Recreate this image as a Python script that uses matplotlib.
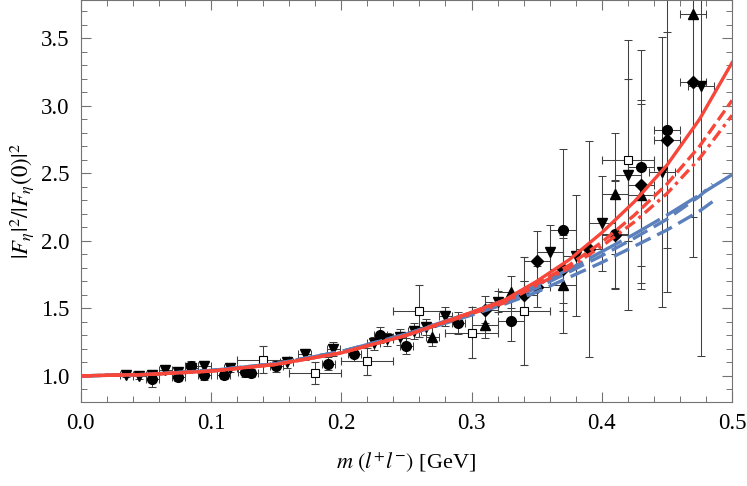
import numpy as np
import matplotlib.pyplot as plt

plt.rcParams['font.family'] = ['Liberation Serif', 'DejaVu Serif']
plt.rcParams['mathtext.fontset'] = 'stix'

# model curves
xc = [0, 0.05, 0.1, 0.15, 0.2, 0.25, 0.3, 0.325, 0.35, 0.375, 0.4, 0.425, 0.45, 0.475, 0.5]
red_solid = [1.0, 1.01, 1.035, 1.085, 1.17, 1.30, 1.47, 1.56, 1.70, 1.86, 2.06, 2.29, 2.56, 2.90, 3.32]
red_dash = [1.0, 1.01, 1.035, 1.085, 1.17, 1.30, 1.47, 1.55, 1.68, 1.82, 1.99, 2.19, 2.42, 2.70, 3.04]
red_dashdot = [1.0, 1.01, 1.035, 1.085, 1.17, 1.30, 1.46, 1.54, 1.67, 1.80, 1.96, 2.14, 2.35, 2.61, 2.93]
blue_top = [1.0, 1.01, 1.04, 1.09, 1.18, 1.31, 1.47, 1.56, 1.67, 1.79, 1.92, 2.05, 2.19, 2.34, 2.49]

xb = [0, 0.05, 0.1, 0.15, 0.2, 0.25, 0.3, 0.325, 0.35, 0.375, 0.4, 0.425, 0.45, 0.475, 0.485]
blue_mid = [1.0, 1.01, 1.04, 1.09, 1.18, 1.31, 1.46, 1.55, 1.65, 1.77, 1.89, 2.02, 2.16, 2.33, 2.42]
blue_low = [1.0, 1.01, 1.04, 1.09, 1.18, 1.30, 1.45, 1.53, 1.62, 1.73, 1.84, 1.96, 2.08, 2.22, 2.29]

# data points
v_x = [0.035, 0.045, 0.055, 0.065, 0.075, 0.085, 0.095, 0.115, 0.158, 0.172, 0.194, 0.225, 0.235,
       0.245, 0.256, 0.265, 0.28, 0.32, 0.34, 0.36, 0.38, 0.40, 0.42, 0.446, 0.476]
v_y = [1.01, 1.0, 1.01, 1.04, 1.03, 1.06, 1.07, 1.06, 1.10, 1.16, 1.20, 1.24, 1.27,
       1.29, 1.33, 1.36, 1.44, 1.55, 1.60, 1.92, 1.89, 2.13, 2.49, 2.51, 3.15]
v_yerr = [0.02, 0.02, 0.02, 0.02, 0.02, 0.03, 0.04, 0.03, 0.04, 0.04, 0.05, 0.05, 0.05,
          0.06, 0.06, 0.06, 0.07, 0.08, 0.10, 0.20, 0.45, 0.35, 1.0, 1.0, 2.0]

o_x = [0.055, 0.075, 0.085, 0.095, 0.11, 0.126, 0.131, 0.15, 0.19, 0.21, 0.23, 0.25, 0.29,
       0.33, 0.37, 0.41, 0.43, 0.45]
o_y = [0.98, 0.995, 1.07, 1.01, 1.01, 1.025, 1.02, 1.07, 1.09, 1.16, 1.30, 1.22, 1.39,
       1.41, 2.08, 2.05, 2.55, 2.82]
o_yerr = [0.06, 0.03, 0.04, 0.04, 0.03, 0.03, 0.03, 0.04, 0.05, 0.05, 0.06, 0.06, 0.08,
          0.15, 0.6, 0.4, 0.86, 1.2]

u_x = [0.27, 0.31, 0.33, 0.37, 0.41, 0.43, 0.47]
u_y = [1.29, 1.38, 1.62, 1.67, 2.35, 2.34, 3.68]
u_yerr = [0.07, 0.10, 0.12, 0.35, 0.45, 0.7, 1.5]

d_x = [0.31, 0.34, 0.35, 0.35, 0.37, 0.39, 0.41, 0.43, 0.45, 0.47]
d_y = [1.49, 1.60, 1.66, 1.85, 1.79, 1.94, 2.04, 2.41, 2.75, 3.18]
d_yerr = [0.10, 0.10, 0.15, 0.22, 0.25, 0.8, 0.4, 0.6, 0.8, 1.3]

s_x = [0.14, 0.18, 0.22, 0.26, 0.30, 0.34, 0.42]
s_y = [1.12, 1.02, 1.11, 1.48, 1.32, 1.48, 2.60]
s_yerr = [0.10, 0.08, 0.10, 0.19, 0.19, 0.4, 0.6]

red = '#f6473a'
blue = '#5b80bb'

fig, ax = plt.subplots(figsize=(7.47, 4.86), dpi=100)
fig.subplots_adjust(left=0.108, right=0.98, bottom=0.173, top=0.999)

def xe(xs):
    return [0.005 if x < 0.3 else 0.01 for x in xs]

eb = dict(ecolor='0.25', elinewidth=0.75, capsize=3, capthick=0.75, ls='none', zorder=2)
ax.errorbar(v_x, v_y, yerr=v_yerr, xerr=xe(v_x), fmt='v', color='k', ms=7.5, **eb)
ax.errorbar(o_x, o_y, yerr=o_yerr, xerr=xe(o_x), fmt='o', color='k', ms=7, **eb)
ax.errorbar(u_x, u_y, yerr=u_yerr, xerr=xe(u_x), fmt='^', color='k', ms=7.5, **eb)
ax.errorbar(d_x, d_y, yerr=d_yerr, xerr=xe(d_x), fmt='D', color='k', ms=6, **eb)
ax.errorbar(s_x, s_y, yerr=s_yerr, xerr=0.02, fmt='s', mfc='white', mec='k', color='k',
            ms=6, mew=0.8, **eb)

ax.plot(xb, blue_low, color=blue, lw=2.4, dashes=(5, 2.2), zorder=3)
ax.plot(xb, blue_mid, color=blue, lw=2.4, dashes=(5, 2.2), zorder=3)
ax.plot(xc, blue_top, color=blue, lw=2.4, dashes=(11, 2.2), zorder=3)
ax.plot(xc, red_dashdot, color=red, lw=2.4, dashes=(3.5, 1.5, 1, 1.5), zorder=4)
ax.plot(xc, red_dash, color=red, lw=2.4, dashes=(3.5, 1.5), zorder=4)
ax.plot(xc, red_solid, color=red, lw=2.4, zorder=5)

ax.set_xlim(0, 0.5)
ax.set_ylim(0.807, 3.78)
ax.set_xticks(np.arange(0, 0.51, 0.1))
ax.set_xticks(np.arange(0, 0.51, 0.02), minor=True)
ax.set_yticks(np.arange(1.0, 3.6, 0.5))
ax.set_yticks(np.arange(0.9, 3.8, 0.1), minor=True)
ax.xaxis.set_major_formatter(plt.FormatStrFormatter('%.1f'))
ax.yaxis.set_major_formatter(plt.FormatStrFormatter('%.1f'))
ax.tick_params(which='both', direction='in', top=True, right=True, color='0.45',
               labelsize=16.5, pad=8)
ax.tick_params(which='major', length=7, width=0.8)
ax.tick_params(which='minor', length=4, width=0.7)
for s in ax.spines.values():
    s.set_color('0.45')
    s.set_linewidth(0.8)

ax.set_xlabel(r'$m\ (l^{+}l^{-})$ [GeV]', fontsize=16, labelpad=12)
ax.set_ylabel(r'$|F_\eta|^2/|F_\eta(0)|^2$', fontsize=16.5, labelpad=4)

plt.savefig('out.png')
